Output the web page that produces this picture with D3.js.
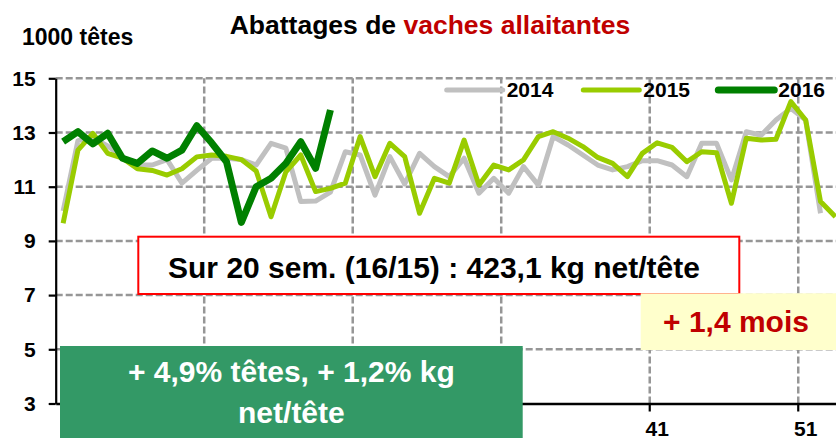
<!DOCTYPE html>
<html>
<head>
<meta charset="utf-8">
<script src="https://cdn.jsdelivr.net/npm/d3@7"></script>
<style>
body { margin: 0; background: #fff; }
svg { display: block; font-family: "Liberation Sans", Arial, sans-serif; }
</style>
</head>
<body>
<svg id="chart" width="836" height="438"></svg>
<script>
// weeks of the year (2015 had 53)
const weeks = [1, 2, 3, 4, 5, 6, 7, 8, 9, 10, 11, 12, 13, 14, 15, 16, 17, 18, 19, 20,
    21, 22, 23, 24, 25, 26, 27, 28, 29, 30, 31, 32, 33, 34, 35, 36, 37, 38, 39, 40,
    41, 42, 43, 44, 45, 46, 47, 48, 49, 50, 51, 52, 53];
// only 41 and 51 show, the others sit under the green box
const tickWeeks = [41, 51];
const gridWeeks = [11, 21, 31, 41, 51];
const yTicks = [3, 5, 7, 9, 11, 13, 15];

// 1000 têtes
const v2014 = [10.1, 12.7, 12.8, 12.5, 12.1, 11.8, 11.8, 12.0, 11.13, 11.6,
    12.05, 12.05, 12.0, 11.8, 12.6, 12.42, 10.45, 10.47, 10.8, 12.29,
    12.17, 10.69, 12.11, 11.1, 12.23, 11.74, 11.37, 12.05, 10.76, 11.31,
    10.76, 11.74, 11.06, 12.85, 12.54, 12.17, 11.8, 11.62, 11.74, 11.96,
    11.96, 11.8, 11.37, 12.6, 12.6, 11.25, 13.03, 12.9, 13.46, 13.89,
    13.46, 10.02];
const v2015 = [9.65, 12.35, 12.97, 12.23, 12.05, 11.66, 11.6, 11.43, 11.66, 12.1,
    12.17, 12.12, 12.0, 11.58, 9.89, 11.55, 12.17, 10.82, 10.94, 11.13,
    12.85, 11.37, 12.6, 12.11, 10.02, 11.31, 11.13, 12.72, 11.06, 11.8,
    11.62, 11.99, 12.85, 13.03, 12.79, 12.48, 12.08, 11.86, 11.37, 12.23,
    12.62, 12.45, 11.92, 12.29, 12.25, 10.39, 12.79, 12.72, 12.75, 14.14,
    13.46, 10.45, 9.89];
const v2016 = [12.66, 13.03, 12.58, 12.97, 12.05, 11.86, 12.32, 12.05, 12.35, 13.25,
    12.62, 11.92, 9.68, 11.0, 11.31, 11.86, 12.66, 11.68, 13.83];

const seriesNames = ["2014", "2015", "2016"];
const seriesValues = [v2014, v2015, v2016];
const seriesColors = ["#c0c0c0", "#99cc00", "#008000"];
const seriesWidths = [5, 5, 7];

let svg = d3.select("#chart");
let font = "'Liberation Sans', Arial, sans-serif";

let x = d3.scaleBand().domain(weeks).range([55.7, 842.8]);
let y = d3.scaleLinear().domain([3, 15]).range([403.5, 78.3]);
let cx = w => x(w) + x.bandwidth() / 2;

// gridlines
svg.append("g").selectAll("line")
    .data(yTicks.filter(d => d > 3))
    .join("line")
    .attr("x1", x.range()[0]).attr("x2", x.range()[1])
    .attr("y1", d => y(d)).attr("y2", d => y(d))
    .attr("stroke", "#969696").attr("stroke-width", 2.5)
    .attr("stroke-dasharray", "7,3");

svg.append("g").selectAll("line")
    .data(gridWeeks)
    .join("line")
    .attr("x1", d => x(d)).attr("x2", d => x(d))
    .attr("y1", y(3)).attr("y2", y(15))
    .attr("stroke", "#969696").attr("stroke-width", 2.5)
    .attr("stroke-dasharray", "7,3");

// series
let line = d3.line()
    .x((d, i) => cx(weeks[i]))
    .y(d => y(d));

seriesValues.forEach((vals, k) => {
    svg.append("path")
        .datum(vals)
        .attr("fill", "none")
        .attr("stroke", seriesColors[k])
        .attr("stroke-width", seriesWidths[k])
        .attr("stroke-linejoin", "round")
        .attr("d", line);
});

// y axis
let gy = svg.append("g")
    .attr("transform", "translate(" + x.range()[0] + ",0)")
    .call(d3.axisLeft(y).tickValues(yTicks).tickSize(7).tickSizeOuter(0).tickPadding(13));
gy.select(".domain").attr("stroke", "#000").attr("stroke-width", 2.2);
gy.selectAll(".tick line").attr("stroke", "#000").attr("stroke-width", 2.2);
gy.selectAll("text").attr("font-family", font).attr("font-size", 21)
    .attr("font-weight", "bold").attr("fill", "#000");

// x axis
let gx = svg.append("g")
    .attr("transform", "translate(0," + y(3) + ")")
    .call(d3.axisBottom(x).tickValues(tickWeeks).tickSize(0).tickSizeOuter(0).tickPadding(18));
gx.select(".domain").attr("stroke", "#000").attr("stroke-width", 2.5);
gx.selectAll("text").attr("font-family", font).attr("font-size", 21)
    .attr("font-weight", "bold").attr("fill", "#000");
gx.selectAll(".mark")
    .data(gridWeeks)
    .join("line")
    .attr("x1", d => x(d)).attr("x2", d => x(d))
    .attr("y1", 0).attr("y2", 8)
    .attr("stroke", "#000").attr("stroke-width", 2.2);

// legend
let legendX = [446.7, 583.3, 718.3];
seriesNames.forEach((name, k) => {
    svg.append("line")
        .attr("x1", legendX[k]).attr("x2", legendX[k] + 56)
        .attr("y1", 90).attr("y2", 90)
        .attr("stroke", seriesColors[k])
        .attr("stroke-width", k == 2 ? 7 : 5)
        .attr("stroke-linecap", "round");
    svg.append("text")
        .attr("x", legendX[k] + 60).attr("y", 97)
        .attr("font-family", font).attr("font-size", 21).attr("font-weight", "bold")
        .text(name);
});

// title + unit
let title = svg.append("text")
    .attr("x", 430).attr("y", 34)
    .attr("text-anchor", "middle")
    .attr("font-family", font).attr("font-size", 26.5).attr("font-weight", "bold");
title.append("tspan").attr("fill", "#000").text("Abattages de ");
title.append("tspan").attr("fill", "#c00000").text("vaches allaitantes");

svg.append("text")
    .attr("x", 22).attr("y", 45)
    .attr("font-family", font).attr("font-size", 23).attr("font-weight", "bold")
    .text("1000 têtes");

// annotation boxes
svg.append("rect")
    .attr("x", 138.3).attr("y", 236.7).attr("width", 601).attr("height", 57.3)
    .attr("fill", "#fff").attr("stroke", "#ff0000").attr("stroke-width", 2);
svg.append("text")
    .attr("x", 434).attr("y", 278.3).attr("text-anchor", "middle")
    .attr("font-family", font).attr("font-size", 30).attr("font-weight", "bold")
    .text("Sur 20 sem. (16/15) : 423,1 kg net/tête");

svg.append("rect")
    .attr("x", 640.7).attr("y", 293.3).attr("width", 200).attr("height", 56.7)
    .attr("fill", "#ffffcc");
svg.append("text")
    .attr("x", 736).attr("y", 331.7).attr("text-anchor", "middle")
    .attr("font-family", font).attr("font-size", 30).attr("font-weight", "bold")
    .attr("fill", "#c00000")
    .text("+ 1,4 mois");

svg.append("rect")
    .attr("x", 60).attr("y", 346).attr("width", 462.7).attr("height", 100)
    .attr("fill", "#339966");
let note = svg.append("text")
    .attr("text-anchor", "middle")
    .attr("font-family", font).attr("font-size", 30).attr("font-weight", "bold")
    .attr("fill", "#fff");
note.append("tspan").attr("x", 291.4).attr("y", 381.7).text("+ 4,9% têtes, + 1,2% kg");
note.append("tspan").attr("x", 291.4).attr("y", 423.3).text("net/tête");
</script>
</body>
</html>
